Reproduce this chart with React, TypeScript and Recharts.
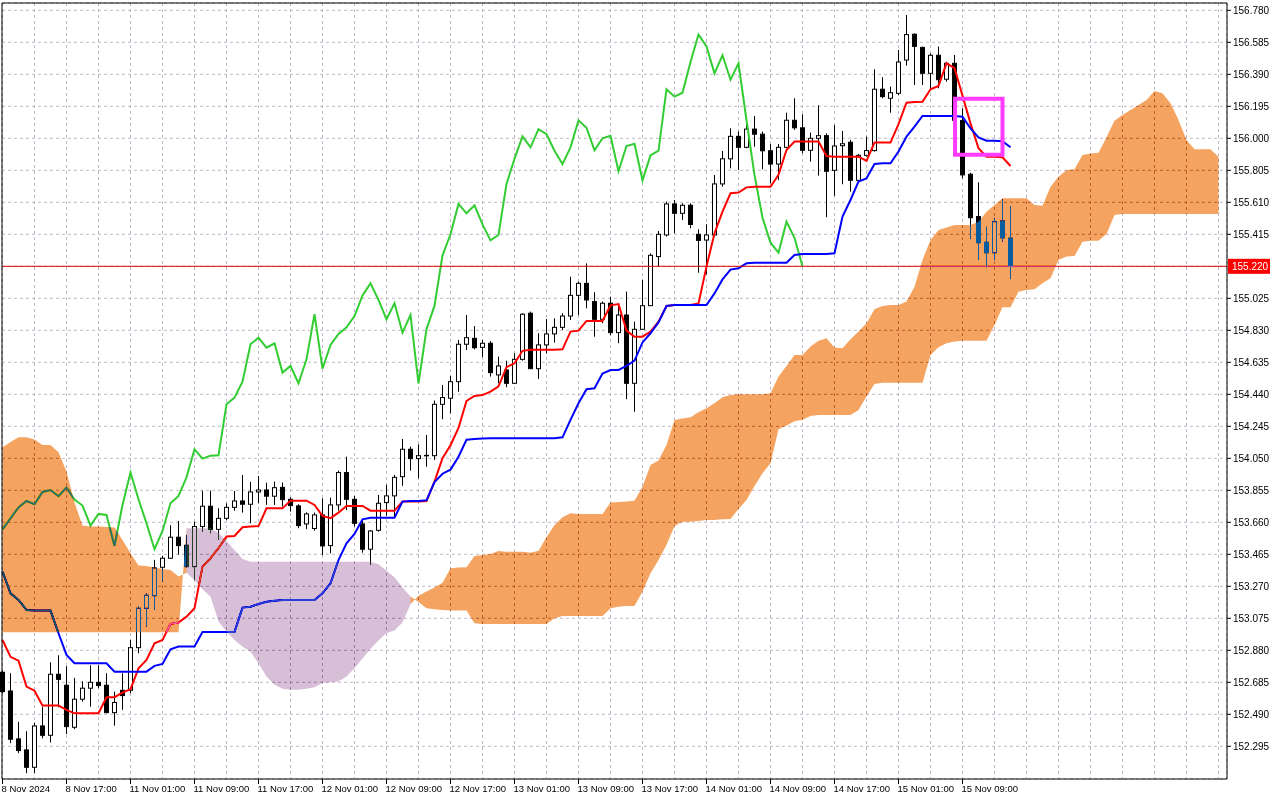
import React from "react";
import {
  ComposedChart,
  Bar,
  Line,
  Area,
  XAxis,
  YAxis,
  CartesianGrid,
  ReferenceLine,
  ReferenceArea,
} from "recharts";

// USDJPY H1, 8 Nov 09:00 .. 15 Nov 15:00 (127 bars)
const opens = [
  152.746, 152.632, 152.34, 152.273, 152.167, 152.419, 152.362, 152.734, 152.667, 152.411,
  152.582, 152.649, 152.685, 152.667, 152.5, 152.636, 152.636, 152.896, 153.136, 153.213,
  153.386, 153.441, 153.569, 153.52, 153.39, 153.634, 153.758, 153.617, 153.684, 153.751,
  153.79, 153.77, 153.845, 153.857, 153.819, 153.873, 153.8, 153.76, 153.65, 153.622,
  153.705, 153.518, 153.766, 153.963, 153.8, 153.65, 153.496, 153.611, 153.78, 153.821,
  153.938, 154.105, 154.048, 154.066, 154.066, 154.379, 154.416, 154.517, 154.745, 154.781,
  154.726, 154.751, 154.558, 154.588, 154.507, 154.653, 154.934, 154.596, 154.741, 154.808,
  154.848, 154.917, 155.043, 155.116, 155.005, 154.897, 154.995, 154.816, 154.923, 154.507,
  154.836, 154.98, 155.279, 155.411, 155.6, 155.543, 155.592, 155.415, 155.38, 155.411,
  155.722, 155.875, 156.012, 155.945, 156.056, 156.025, 155.924, 155.843, 155.945, 156.11,
  156.064, 155.927, 156.0, 156.016, 155.805, 155.955, 155.976, 155.744, 155.896, 155.925,
  156.299, 156.244, 156.274, 156.477, 156.634, 156.554, 156.396, 156.506, 156.36, 156.457,
  156.108, 155.781, 155.523, 155.366, 155.303, 155.496, 155.391,
];
const highs = [
  152.755, 152.74, 152.444, 152.387, 152.439, 152.537, 152.807, 152.85, 152.783, 152.712,
  152.691, 152.789, 152.789, 152.74, 152.628, 152.74, 152.943, 153.15, 153.227, 153.431,
  153.455, 153.642, 153.668, 153.583, 153.664, 153.853, 153.853, 153.745, 153.776, 153.851,
  153.948, 153.906, 153.942, 153.902, 153.908, 153.902, 153.812, 153.77, 153.721, 153.719,
  153.806, 153.81, 153.975, 154.06, 153.821, 153.674, 153.613, 153.827, 153.888, 153.949,
  154.168, 154.121, 154.135, 154.192, 154.402, 154.497, 154.552, 154.771, 154.923, 154.856,
  154.771, 154.765, 154.67, 154.645, 154.69, 154.934, 154.944, 154.812, 154.899, 154.903,
  154.934, 155.157, 155.127, 155.238, 155.062, 155.005, 155.035, 154.978, 155.066, 154.883,
  155.137, 155.299, 155.435, 155.614, 155.624, 155.604, 155.604, 155.445, 155.476, 155.776,
  155.923, 156.061, 156.041, 156.132, 156.136, 156.041, 155.965, 155.965, 156.156, 156.244,
  156.146, 156.035, 156.201, 156.03, 156.081, 156.045, 155.99, 155.905, 156.01, 156.42,
  156.372, 156.315, 156.538, 156.751, 156.64, 156.559, 156.518, 156.559, 156.467, 156.508,
  156.183, 155.79, 155.732, 155.461, 155.513, 155.628, 155.587,
];
const lows = [
  152.62, 152.314, 152.253, 152.131, 152.131, 152.344, 152.318, 152.533, 152.37, 152.399,
  152.567, 152.537, 152.649, 152.496, 152.421, 152.517, 152.618, 152.862, 153.024, 153.126,
  153.299, 153.439, 153.463, 153.385, 153.308, 153.603, 153.593, 153.552, 153.674, 153.731,
  153.719, 153.654, 153.776, 153.766, 153.766, 153.756, 153.725, 153.624, 153.618, 153.609,
  153.461, 153.471, 153.731, 153.735, 153.634, 153.475, 153.4, 153.603, 153.699, 153.695,
  153.882, 153.975, 153.928, 153.999, 154.04, 154.288, 154.324, 154.456, 154.71, 154.714,
  154.666, 154.548, 154.507, 154.483, 154.503, 154.645, 154.594, 154.534, 154.69, 154.755,
  154.832, 154.893, 154.923, 154.964, 154.791, 154.873, 154.8, 154.751, 154.41, 154.334,
  154.832, 154.978, 155.218, 155.401, 155.421, 155.502, 155.452, 155.181, 155.171, 155.401,
  155.705, 155.817, 155.807, 155.939, 155.949, 155.811, 155.726, 155.746, 155.939, 156.051,
  155.909, 155.858, 155.773, 155.519, 155.649, 155.72, 155.675, 155.735, 155.888, 155.919,
  156.244, 156.156, 156.264, 156.443, 156.325, 156.325, 156.294, 156.305, 156.345, 156.09,
  155.756, 155.387, 155.259, 155.214, 155.259, 155.37, 155.143,
];
const closes = [
  152.628, 152.338, 152.269, 152.167, 152.419, 152.362, 152.734, 152.703, 152.415, 152.582,
  152.649, 152.685, 152.665, 152.5, 152.562, 152.604, 152.896, 153.136, 153.215, 153.382,
  153.441, 153.569, 153.518, 153.39, 153.634, 153.758, 153.617, 153.684, 153.751, 153.79,
  153.77, 153.845, 153.857, 153.819, 153.871, 153.798, 153.762, 153.64, 153.711, 153.705,
  153.516, 153.766, 153.963, 153.8, 153.654, 153.496, 153.607, 153.776, 153.821, 153.934,
  154.105, 154.048, 154.066, 154.068, 154.379, 154.42, 154.517, 154.745, 154.785, 154.724,
  154.751, 154.572, 154.613, 154.507, 154.653, 154.928, 154.596, 154.741, 154.808, 154.848,
  154.917, 155.043, 155.116, 155.015, 154.897, 154.995, 154.816, 154.923, 154.507, 154.836,
  154.98, 155.287, 155.415, 155.6, 155.543, 155.592, 155.475, 155.378, 155.411, 155.722,
  155.875, 156.012, 155.945, 156.056, 156.025, 155.924, 155.843, 155.945, 156.11, 156.064,
  155.927, 156.0, 156.016, 155.799, 155.953, 155.967, 155.744, 155.896, 155.925, 156.299,
  156.254, 156.278, 156.465, 156.632, 156.56, 156.396, 156.506, 156.357, 156.457, 156.11,
  155.777, 155.516, 155.364, 155.303, 155.492, 155.394, 155.22,
];

// Tenkan-sen (red) and Kijun-sen (blue), one value per bar
const tenkan = [
  152.943, 152.84, 152.817, 152.659, 152.634, 152.543, 152.543, 152.543, 152.517, 152.496,
  152.496, 152.496, 152.496, 152.594, 152.594, 152.622, 152.643, 152.77, 152.821, 152.923,
  152.943, 153.041, 153.049, 153.085, 153.136, 153.39, 153.441, 153.502, 153.573, 153.577,
  153.63, 153.634, 153.637, 153.745, 153.745, 153.745, 153.792, 153.792, 153.792, 153.766,
  153.699, 153.685, 153.719, 153.76, 153.76, 153.76, 153.731, 153.731, 153.731, 153.731,
  153.786, 153.786, 153.786, 153.79, 153.908, 154.05, 154.13, 154.235, 154.4, 154.43,
  154.435, 154.456, 154.488, 154.605, 154.629, 154.705, 154.712, 154.712, 154.712, 154.712,
  154.714, 154.822, 154.828, 154.887, 154.887, 154.887, 154.982, 154.99, 154.828, 154.791,
  154.791, 154.822, 154.883, 154.978, 154.984, 154.984, 154.984, 154.994, 155.218, 155.421,
  155.553, 155.665, 155.669, 155.701, 155.705, 155.705, 155.705, 155.777, 155.929, 155.98,
  155.98, 155.98, 155.98, 155.892, 155.888, 155.888, 155.888, 155.888, 155.862, 155.974,
  155.974, 155.974, 156.087, 156.217, 156.221, 156.223, 156.299, 156.319, 156.457, 156.427,
  156.26, 156.091, 155.939, 155.888, 155.888, 155.884, 155.831,
];
const kijun = [
  153.359, 153.227, 153.187, 153.126, 153.122, 153.122, 153.122, 152.984, 152.852, 152.801,
  152.801, 152.801, 152.801, 152.801, 152.75, 152.75, 152.75, 152.75, 152.75, 152.785,
  152.797, 152.886, 152.903, 152.903, 152.903, 152.992, 152.992, 152.992, 152.992, 152.992,
  153.14, 153.146, 153.162, 153.176, 153.182, 153.186, 153.186, 153.186, 153.186, 153.186,
  153.227, 153.288, 153.43, 153.532, 153.589, 153.678, 153.688, 153.688, 153.688, 153.688,
  153.786, 153.79, 153.79, 153.794, 153.905, 153.956, 153.981, 154.06, 154.163, 154.168,
  154.17, 154.172, 154.172, 154.172, 154.172, 154.172, 154.172, 154.172, 154.172, 154.172,
  154.178, 154.284, 154.385, 154.471, 154.477, 154.566, 154.588, 154.588, 154.613, 154.645,
  154.756, 154.812, 154.878, 154.978, 154.984, 154.984, 154.984, 154.984, 154.984, 155.055,
  155.14, 155.2, 155.208, 155.238, 155.242, 155.242, 155.242, 155.242, 155.242, 155.289,
  155.295, 155.295, 155.295, 155.295, 155.299, 155.523, 155.624, 155.736, 155.756, 155.844,
  155.848, 155.848, 155.919, 156.01, 156.071, 156.136, 156.136, 156.136, 156.136, 156.136,
  156.132, 156.061, 156.006, 155.985, 155.985, 155.982, 155.945,
];

// Senkou Span A / B, already shifted 26 bars ahead (153 values)
const spanA = [
  154.117, 154.15, 154.178, 154.178, 154.165, 154.131, 154.131, 154.087, 153.97, 153.78,
  153.64, 153.634, 153.634, 153.632, 153.628, 153.552, 153.471, 153.396, 153.393, 153.385,
  153.375, 153.37, 153.33, 153.353, 153.309, 153.252, 153.207, 153.055, 152.994, 152.943,
  152.902, 152.872, 152.8, 152.72, 152.67, 152.645, 152.64, 152.64, 152.645, 152.655,
  152.68, 152.685, 152.69, 152.72, 152.77, 152.83, 152.89, 152.94, 152.985, 153.0,
  153.05, 153.16, 153.213, 153.238, 153.262, 153.292, 153.38, 153.384, 153.386, 153.455,
  153.461, 153.467, 153.485, 153.481, 153.481, 153.481, 153.475, 153.487, 153.569, 153.644,
  153.691, 153.715, 153.711, 153.711, 153.711, 153.711, 153.78, 153.784, 153.786, 153.792,
  153.877, 154.009, 154.036, 154.131, 154.284, 154.292, 154.3, 154.33, 154.355, 154.385,
  154.422, 154.436, 154.44, 154.44, 154.44, 154.44, 154.446, 154.548, 154.613, 154.68,
  154.68, 154.731, 154.767, 154.781, 154.725, 154.72, 154.775, 154.822, 154.873, 154.958,
  154.978, 154.984, 154.984, 155.005, 155.096, 155.259, 155.381, 155.441, 155.456, 155.472,
  155.472, 155.472, 155.492, 155.553, 155.594, 155.634, 155.634, 155.634, 155.634, 155.594,
  155.589, 155.705, 155.766, 155.807, 155.811, 155.898, 155.908, 155.912, 156.006, 156.107,
  156.142, 156.172, 156.203, 156.233, 156.288, 156.274, 156.213, 156.111, 155.99, 155.933,
  155.933, 155.933, 155.888,
];
const spanB = [
  152.99, 152.99, 152.99, 152.99, 152.99, 152.99, 152.99, 152.99, 152.99, 152.99,
  152.99, 152.99, 152.99, 152.99, 152.99, 152.99, 152.99, 152.99, 152.99, 152.99,
  152.99, 152.99, 152.99, 153.623, 153.623, 153.623, 153.623, 153.595, 153.546, 153.491,
  153.436, 153.42, 153.42, 153.42, 153.42, 153.42, 153.42, 153.42, 153.42, 153.42,
  153.42, 153.42, 153.42, 153.42, 153.42, 153.42, 153.42, 153.405, 153.365, 153.325,
  153.262, 153.208, 153.175, 153.136, 153.13, 153.126, 153.122, 153.122, 153.122, 153.045,
  153.041, 153.041, 153.041, 153.041, 153.041, 153.041, 153.041, 153.041, 153.041, 153.075,
  153.089, 153.089, 153.089, 153.089, 153.089, 153.089, 153.136, 153.146, 153.15, 153.15,
  153.238, 153.349, 153.431, 153.522, 153.638, 153.664, 153.664, 153.668, 153.674, 153.674,
  153.678, 153.68, 153.741, 153.796, 153.881, 153.959, 154.02, 154.227, 154.25, 154.276,
  154.285, 154.308, 154.314, 154.314, 154.314, 154.314, 154.314, 154.345, 154.426, 154.503,
  154.511, 154.511, 154.511, 154.511, 154.511, 154.511, 154.68, 154.727, 154.751, 154.761,
  154.767, 154.767, 154.767, 154.767, 154.862, 154.97, 154.97, 155.065, 155.076, 155.08,
  155.116, 155.147, 155.258, 155.279, 155.283, 155.37, 155.376, 155.376, 155.417, 155.533,
  155.539, 155.539, 155.539, 155.539, 155.539, 155.539, 155.539, 155.539, 155.539, 155.539,
  155.539, 155.539, 155.539,
];

const priceTicks = [
  152.295, 152.49, 152.685, 152.88, 153.075, 153.27, 153.465, 153.66, 153.855, 154.05,
  154.245, 154.44, 154.635, 154.83, 155.025, 155.22, 155.415, 155.61, 155.805, 156.0,
  156.195, 156.39, 156.585, 156.78,
];
const timeLabels = [
  "8 Nov 2024", "8 Nov 17:00", "11 Nov 01:00", "11 Nov 09:00", "11 Nov 17:00",
  "12 Nov 01:00", "12 Nov 09:00", "12 Nov 17:00", "13 Nov 01:00", "13 Nov 09:00",
  "13 Nov 17:00", "14 Nov 01:00", "14 Nov 09:00", "14 Nov 17:00", "15 Nov 01:00",
  "15 Nov 09:00",
];
const labelBars = [0, 8, 16, 24, 32, 40, 48, 56, 64, 72, 80, 88, 96, 104, 112, 120];

const lastPrice = 155.22;
const boxBars = [119.07, 125.0];
const boxPrices = [155.9, 156.241];

const LAG = 26;
const X_DOMAIN: [number, number] = [-0.0625, 153.0625];
const Y_DOMAIN: [number, number] = [152.0957, 156.8245];
const gridBars = Array.from({ length: 39 }, (_, n) => n * 4);

const FONT = '"Liberation Sans", Arial, sans-serif';

const rows = spanA.map((a, i) => {
  const b = spanB[i];
  const up = a >= b;
  const prevUp = i > 0 && spanA[i - 1] >= spanB[i - 1];
  const nextUp = i < spanA.length - 1 && spanA[i + 1] >= spanB[i + 1];
  return {
    i,
    o: opens[i],
    h: highs[i],
    l: lows[i],
    c: closes[i],
    tenkan: tenkan[i],
    kijun: kijun[i],
    chikou: closes[i + LAG],
    up: up || prevUp || nextUp ? [b, a] : null,
    down: !up ? [a, b] : null,
  };
});

function Candle(props: any) {
  const { x, y, width, height, payload } = props;
  if (payload == null || payload.o == null) return null;
  const { o, h, l, c } = payload;
  const cx = Math.round(x + width / 2 - 0.5) + 0.5;
  const yOf = (v: number) => (h === l ? y : y + ((h - v) / (h - l)) * height);
  const top = yOf(Math.max(o, c));
  const bot = yOf(Math.min(o, c));
  const bull = c >= o;
  return (
    <g>
      <line x1={cx} x2={cx} y1={y} y2={y + height} stroke="#000" strokeWidth={1} />
      <rect
        x={cx - 2}
        y={top}
        width={4}
        height={Math.max(bot - top, 0.5)}
        fill={bull ? "#fff" : "#000"}
        stroke="#000"
        strokeWidth={1}
      />
    </g>
  );
}

function PriceTick(props: any) {
  const { x, y, payload } = props;
  const v = payload.value as number;
  const label = v.toFixed(3);
  if (Math.abs(v - lastPrice) < 1e-6) {
    return (
      <g>
        <rect x={x + 1} y={y - 7.5} width={42} height={15} fill="#ff0000" />
        <text x={x + 5} y={y + 3.5} fontSize={10} fontFamily={FONT} fill="#fff">
          {label}
        </text>
      </g>
    );
  }
  return (
    <g>
      <line x1={x} x2={x + 4} y1={y} y2={y} stroke="#000" />
      <text x={x + 6} y={y + 3.5} fontSize={10} fontFamily={FONT} fill="#000">
        {label}
      </text>
    </g>
  );
}

function TimeTick(props: any) {
  const { x, y, payload } = props;
  const idx = labelBars.indexOf(payload.value);
  if (idx < 0) return null;
  return (
    <g>
      <line x1={x} x2={x} y1={y} y2={y + 5} stroke="#000" />
      <text x={x - 1} y={y + 13} fontSize={9.5} fontFamily={FONT} fill="#000">
        {timeLabels[idx]}
      </text>
    </g>
  );
}

export default function App() {
  return (
    <div style={{ position: "absolute", left: 0, top: 0, width: 1280, height: 800, background: "#fff" }}>
      <style>{`.ichimoku-cloud path { mix-blend-mode: difference; }`}</style>
      <ComposedChart width={1280} height={800} data={rows} margin={{ top: 3, right: 0, bottom: 0, left: 2 }}>
        <CartesianGrid stroke="#c4b8c8" strokeDasharray="3 3" fill="#ffffff" />
        <XAxis
          dataKey="i"
          type="number"
          domain={X_DOMAIN}
          ticks={gridBars}
          height={21}
          axisLine={false}
          tickLine={false}
          tickSize={0}
          tickMargin={0}
          interval={0}
          tick={<TimeTick />}
        />
        <YAxis
          type="number"
          orientation="right"
          domain={Y_DOMAIN}
          ticks={priceTicks}
          width={53}
          axisLine={false}
          tickLine={false}
          tickSize={0}
          tickMargin={0}
          interval={0}
          tick={<PriceTick />}
        />
        <Bar
          dataKey={(d: any) => (d.h == null ? null : [d.l, d.h])}
          barSize={5}
          shape={(p: any) => <Candle {...p} />}
          isAnimationActive={false}
        />
        <Line dataKey="chikou" stroke="#32cd32" strokeWidth={2} dot={false} activeDot={false} isAnimationActive={false} />
        <Line dataKey="tenkan" stroke="#ff0000" strokeWidth={2} dot={false} activeDot={false} isAnimationActive={false} />
        <Line dataKey="kijun" stroke="#0000ff" strokeWidth={2} dot={false} activeDot={false} isAnimationActive={false} />
        <ReferenceLine y={lastPrice} stroke="#e00000" strokeWidth={1} />
        <Area
          className="ichimoku-cloud"
          dataKey="up"
          type="linear"
          stroke="none"
          fill="#0b5b9f"
          fillOpacity={1}
          dot={false}
          activeDot={false}
          isAnimationActive={false}
          {...({ zIndex: 1000 } as any)}
        />
        <Area
          className="ichimoku-cloud"
          dataKey="down"
          type="linear"
          stroke="none"
          fill="#274027"
          fillOpacity={1}
          dot={false}
          activeDot={false}
          isAnimationActive={false}
          {...({ zIndex: 1000 } as any)}
        />
        <ReferenceArea
          x1={boxBars[0]}
          x2={boxBars[1]}
          y1={boxPrices[0]}
          y2={boxPrices[1]}
          fill="none"
          stroke="#ff3cff"
          strokeWidth={4}
          {...({ zIndex: 1100 } as any)}
        />
        <ReferenceArea
          x1={X_DOMAIN[0]}
          x2={X_DOMAIN[1]}
          y1={Y_DOMAIN[0]}
          y2={Y_DOMAIN[1]}
          fill="none"
          stroke="#000"
          strokeWidth={1}
          ifOverflow="visible"
          {...({ zIndex: 1200 } as any)}
        />
      </ComposedChart>
    </div>
  );
}
